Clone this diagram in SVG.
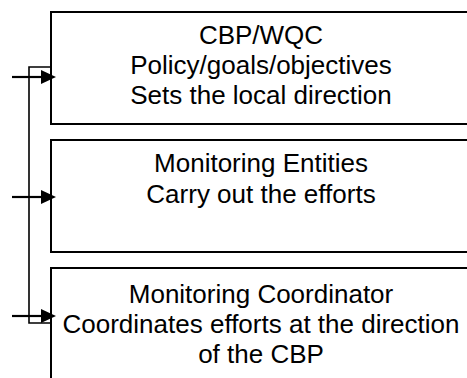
<svg xmlns="http://www.w3.org/2000/svg" width="467" height="378" viewBox="0 0 467 378">
  <style>
    .box { fill: #ffffff; stroke: #000000; stroke-width: 2; }
    .lbl { font-family: "Liberation Sans", Arial, sans-serif; font-size: 26px; fill: #000000; text-anchor: middle; }
    .wire { fill: none; stroke: #000000; stroke-width: 1.6; }
    .arr { fill: none; stroke: #000000; stroke-width: 2.2; }
    .head { fill: #000000; stroke: none; }
  </style>
  <rect x="0" y="0" width="467" height="378" fill="#ffffff"/>
  <g id="node-cbp">
    <rect class="box" x="51" y="12" width="430" height="112"/>
    <text class="lbl" x="261" y="44">CBP/WQC</text>
    <text class="lbl" x="261" y="74">Policy/goals/objectives</text>
    <text class="lbl" x="261" y="104">Sets the local direction</text>
  </g>
  <g id="node-entities">
    <rect class="box" x="51" y="140" width="430" height="112"/>
    <text class="lbl" x="261" y="172">Monitoring Entities</text>
    <text class="lbl" x="261" y="203">Carry out the efforts</text>
  </g>
  <g id="node-coordinator">
    <rect class="box" x="51" y="268" width="430" height="120"/>
    <text class="lbl" x="261" y="303">Monitoring Coordinator</text>
    <text class="lbl" x="261" y="333">Coordinates efforts at the direction</text>
    <text class="lbl" x="261" y="363">of the CBP</text>
  </g>
  <g id="connectors">
    <path class="wire" d="M51,67 H29 V323 H51"/>
    <line class="arr" x1="12" y1="77" x2="42" y2="77"/>
    <polygon class="head" points="41,70 56,77 41,84"/>
    <line class="arr" x1="12" y1="197" x2="42" y2="197"/>
    <polygon class="head" points="41,190 56,197 41,204"/>
    <line class="arr" x1="12" y1="316" x2="42" y2="316"/>
    <polygon class="head" points="41,309 56,316 41,323"/>
  </g>
</svg>
